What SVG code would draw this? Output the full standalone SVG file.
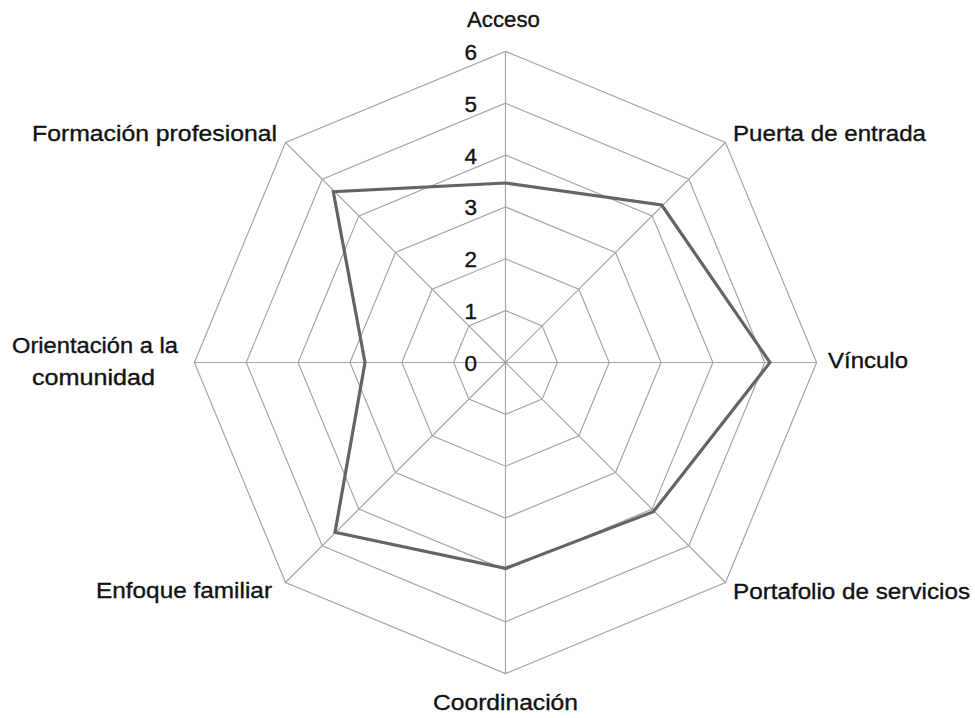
<svg xmlns="http://www.w3.org/2000/svg" width="975" height="718" viewBox="0 0 975 718">
<style>
.grid{fill:none;stroke:#a6a6a6;stroke-width:1.2}
.data{fill:none;stroke:#646464;stroke-width:3.2;stroke-linejoin:miter}
text{font-family:"Liberation Sans",Arial,sans-serif;font-size:22.5px;fill:#111;stroke:#111;stroke-width:0.35}
.tick{text-anchor:end;dominant-baseline:central}
</style>
<rect width="975" height="718" fill="#fff"/>
<g id="grid">
<polygon class="grid" points="505.5,310.65 542.16,325.84 557.35,362.5 542.16,399.16 505.5,414.35 468.84,399.16 453.65,362.5 468.84,325.84"/>
<polygon class="grid" points="505.5,258.8 578.83,289.17 609.2,362.5 578.83,435.83 505.5,466.2 432.17,435.83 401.8,362.5 432.17,289.17"/>
<polygon class="grid" points="505.5,206.95 615.49,252.51 661.05,362.5 615.49,472.49 505.5,518.05 395.51,472.49 349.95,362.5 395.51,252.51"/>
<polygon class="grid" points="505.5,155.1 652.15,215.85 712.9,362.5 652.15,509.15 505.5,569.9 358.85,509.15 298.1,362.5 358.85,215.85"/>
<polygon class="grid" points="505.5,103.25 688.81,179.19 764.75,362.5 688.81,545.81 505.5,621.75 322.19,545.81 246.25,362.5 322.19,179.19"/>
<polygon class="grid" points="505.5,51.4 725.48,142.52 816.6,362.5 725.48,582.48 505.5,673.6 285.52,582.48 194.4,362.5 285.52,142.52"/>
<path class="grid" d="M505.5,362.5V51.4M505.5,362.5L725.48,142.52M505.5,362.5H816.6M505.5,362.5L725.48,582.48M505.5,362.5V673.6M505.5,362.5L285.52,582.48M505.5,362.5H194.4M505.5,362.5L285.52,142.52"/>
</g>
<g id="series">
<polygon class="data" points="505.5,183 661.7,205 770,362.5 653.3,511.7 505.5,568.3 335,532.3 365,362.5 333.3,191.7"/>
</g>
<g id="ticks">
<text class="tick" x="477" y="363.5">0</text>
<text class="tick" x="477" y="311.6">1</text>
<text class="tick" x="477" y="259.8">2</text>
<text class="tick" x="477" y="207.9">3</text>
<text class="tick" x="477" y="156.1">4</text>
<text class="tick" x="477" y="104.2">5</text>
<text class="tick" x="477" y="52.4">6</text>
</g>
<g id="labels">
<text x="503.5" y="27" text-anchor="middle" textLength="73" lengthAdjust="spacingAndGlyphs">Acceso</text>
<text x="733" y="141" textLength="193" lengthAdjust="spacingAndGlyphs">Puerta de entrada</text>
<text x="828" y="368" textLength="80" lengthAdjust="spacingAndGlyphs">Vínculo</text>
<text x="32" y="141" textLength="245" lengthAdjust="spacingAndGlyphs">Formación profesional</text>
<text x="12" y="353" textLength="166" lengthAdjust="spacingAndGlyphs">Orientación a la</text>
<text x="32" y="385" textLength="123" lengthAdjust="spacingAndGlyphs">comunidad</text>
<text x="96" y="598" textLength="176" lengthAdjust="spacingAndGlyphs">Enfoque familiar</text>
<text x="433" y="710" textLength="145" lengthAdjust="spacingAndGlyphs">Coordinación</text>
<text x="733" y="599" textLength="237" lengthAdjust="spacingAndGlyphs">Portafolio de servicios</text>
</g>
</svg>
